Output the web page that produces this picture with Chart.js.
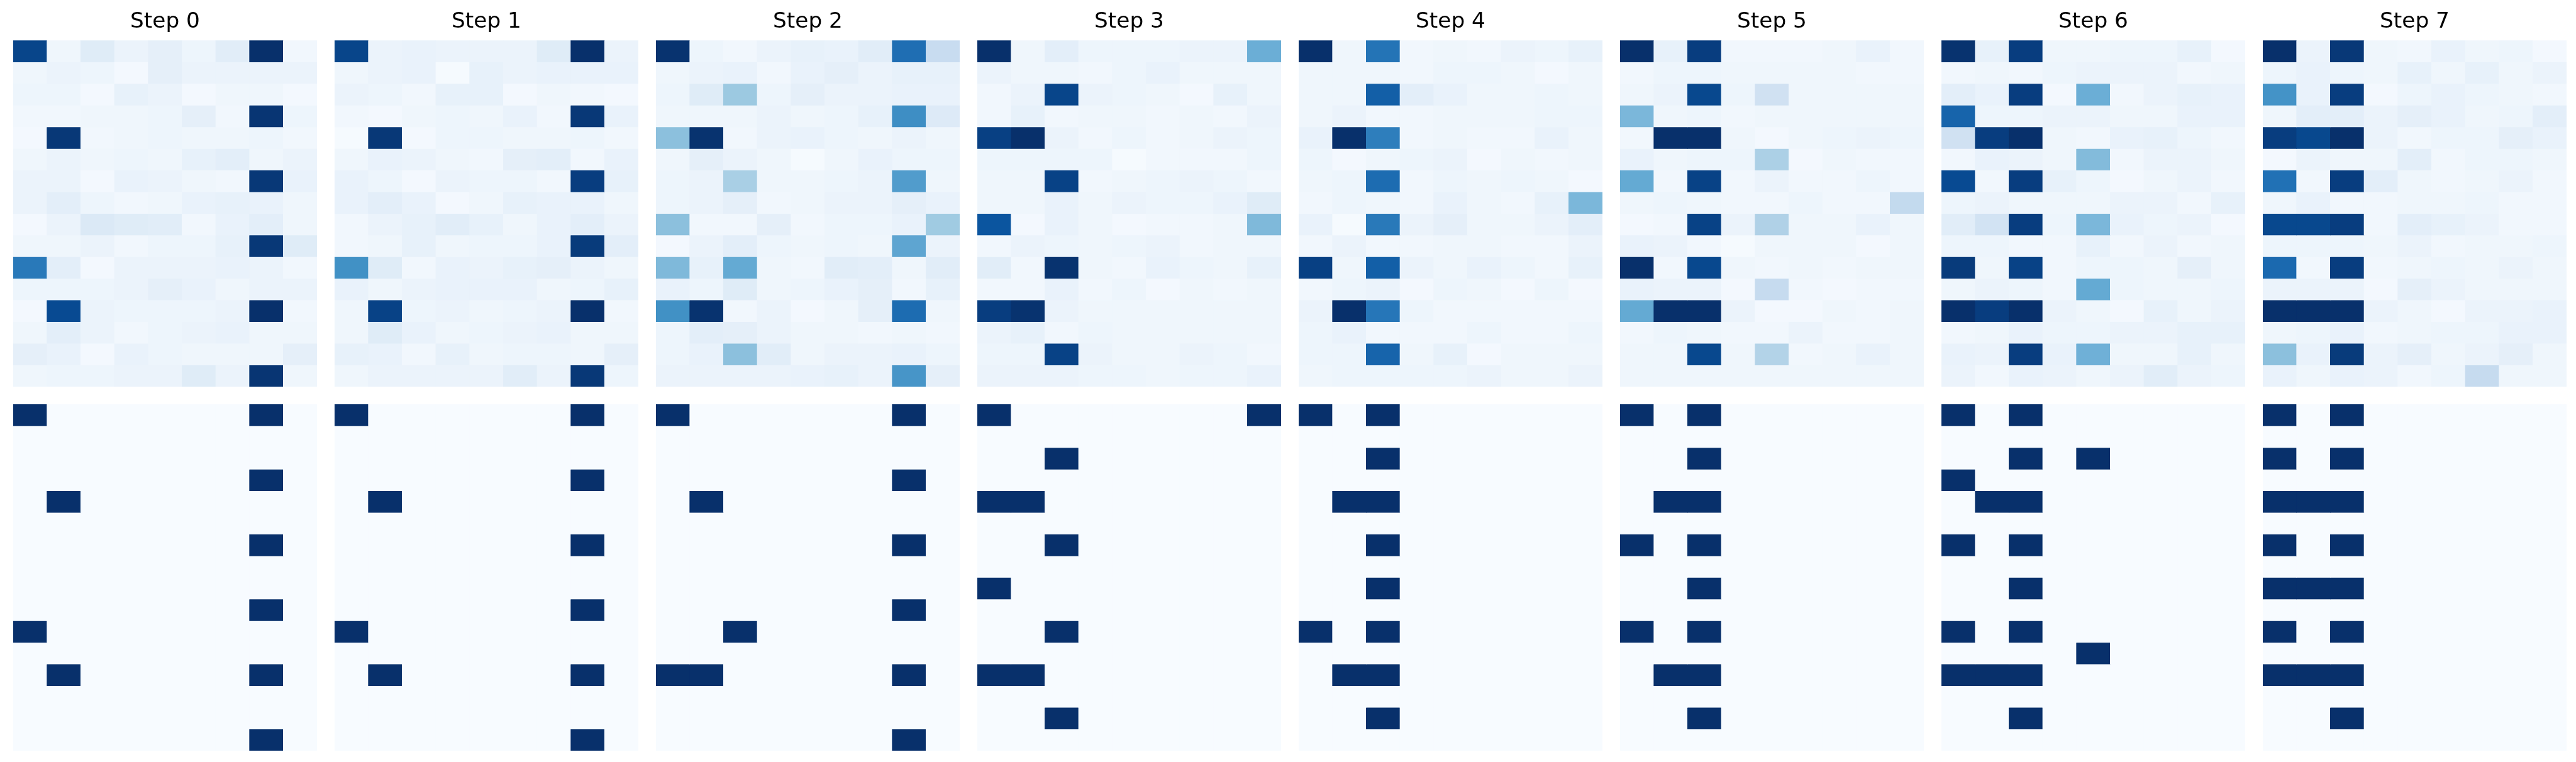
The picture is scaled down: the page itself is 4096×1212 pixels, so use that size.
<!DOCTYPE html>
<html>
<head>
<meta charset="utf-8">
<script src="https://cdn.jsdelivr.net/npm/chart.js@4.4.1/dist/chart.umd.min.js"></script>
<style>
  html, body { margin: 0; padding: 0; background: #fff; }
  body { width: 4096px; height: 1212px; position: relative; overflow: hidden; }
  canvas { position: absolute; }
</style>
</head>
<body>
<script>
// ---- data ----
const stepTitles = ['Step 0', 'Step 1', 'Step 2', 'Step 3', 'Step 4', 'Step 5', 'Step 6', 'Step 7'];
const columnLabels = ['0', '1', '2', '3', '4', '5', '6', '7', '8'];
const rowLabels = ['0', '1', '2', '3', '4', '5', '6', '7', '8', '9', '10', '11', '12', '13', '14', '15'];

// upper row: soft attention-like maps (0..1)
const topStep0 = [
  [0.92,0.04,0.12,0.06,0.09,0.05,0.11,1.00,0.03],
  [0.04,0.06,0.05,0.02,0.09,0.06,0.06,0.06,0.06],
  [0.05,0.05,0.02,0.08,0.06,0.02,0.04,0.04,0.02],
  [0.03,0.03,0.04,0.04,0.05,0.09,0.03,0.98,0.05],
  [0.02,0.97,0.03,0.04,0.05,0.04,0.04,0.05,0.03],
  [0.04,0.06,0.04,0.05,0.04,0.08,0.10,0.04,0.06],
  [0.06,0.06,0.02,0.07,0.06,0.04,0.03,0.97,0.07],
  [0.06,0.10,0.05,0.03,0.04,0.07,0.08,0.07,0.04],
  [0.02,0.06,0.14,0.12,0.11,0.03,0.07,0.10,0.04],
  [0.04,0.04,0.06,0.03,0.05,0.05,0.08,0.97,0.12],
  [0.72,0.10,0.02,0.06,0.06,0.06,0.07,0.06,0.03],
  [0.05,0.05,0.05,0.06,0.09,0.07,0.04,0.06,0.06],
  [0.02,0.90,0.06,0.05,0.05,0.05,0.06,1.00,0.03],
  [0.04,0.10,0.06,0.03,0.05,0.06,0.07,0.04,0.04],
  [0.09,0.07,0.02,0.07,0.05,0.04,0.04,0.04,0.09],
  [0.04,0.05,0.05,0.06,0.06,0.12,0.06,0.98,0.04]
];
const topStep1 = [
  [0.92,0.06,0.07,0.06,0.06,0.06,0.12,1.00,0.06],
  [0.04,0.06,0.07,0.01,0.08,0.06,0.07,0.07,0.07],
  [0.06,0.05,0.03,0.08,0.08,0.02,0.04,0.03,0.02],
  [0.03,0.02,0.04,0.05,0.04,0.07,0.03,0.97,0.07],
  [0.01,0.97,0.02,0.05,0.05,0.04,0.04,0.05,0.03],
  [0.04,0.07,0.06,0.04,0.03,0.09,0.10,0.03,0.07],
  [0.07,0.05,0.02,0.06,0.05,0.05,0.03,0.95,0.08],
  [0.07,0.10,0.07,0.02,0.04,0.08,0.07,0.07,0.04],
  [0.03,0.06,0.08,0.11,0.08,0.04,0.07,0.10,0.06],
  [0.03,0.04,0.08,0.04,0.05,0.05,0.07,0.96,0.10],
  [0.63,0.12,0.03,0.07,0.06,0.08,0.09,0.06,0.04],
  [0.07,0.04,0.06,0.07,0.07,0.07,0.04,0.05,0.08],
  [0.04,0.93,0.05,0.06,0.04,0.05,0.06,1.00,0.03],
  [0.04,0.12,0.07,0.04,0.05,0.06,0.07,0.04,0.04],
  [0.08,0.07,0.03,0.08,0.04,0.05,0.05,0.04,0.09],
  [0.04,0.06,0.06,0.06,0.06,0.11,0.06,0.97,0.05]
];
const topStep2 = [
  [0.99,0.05,0.03,0.06,0.08,0.07,0.11,0.76,0.24],
  [0.04,0.06,0.07,0.03,0.07,0.09,0.06,0.08,0.08],
  [0.05,0.12,0.38,0.05,0.09,0.06,0.06,0.07,0.07],
  [0.04,0.04,0.04,0.06,0.04,0.05,0.08,0.64,0.13],
  [0.42,0.99,0.03,0.06,0.07,0.05,0.04,0.06,0.04],
  [0.04,0.09,0.06,0.04,0.01,0.04,0.07,0.05,0.05],
  [0.05,0.06,0.34,0.04,0.04,0.05,0.06,0.58,0.04],
  [0.05,0.06,0.09,0.03,0.04,0.06,0.06,0.09,0.07],
  [0.42,0.03,0.03,0.09,0.03,0.05,0.05,0.07,0.37],
  [0.02,0.06,0.10,0.05,0.04,0.05,0.04,0.54,0.06],
  [0.45,0.08,0.52,0.04,0.03,0.11,0.10,0.04,0.11],
  [0.07,0.05,0.12,0.04,0.05,0.07,0.09,0.03,0.08],
  [0.63,0.99,0.03,0.06,0.02,0.04,0.09,0.77,0.04],
  [0.05,0.10,0.09,0.06,0.04,0.04,0.03,0.04,0.03],
  [0.05,0.07,0.42,0.11,0.04,0.06,0.06,0.07,0.05],
  [0.06,0.06,0.06,0.06,0.07,0.08,0.06,0.61,0.09]
];
const topStep3 = [
  [1.00,0.04,0.10,0.05,0.05,0.05,0.06,0.06,0.50],
  [0.06,0.04,0.04,0.03,0.05,0.07,0.04,0.04,0.04],
  [0.03,0.06,0.92,0.06,0.05,0.04,0.02,0.08,0.04],
  [0.03,0.08,0.03,0.04,0.04,0.03,0.04,0.03,0.06],
  [0.94,1.00,0.06,0.03,0.05,0.03,0.04,0.06,0.05],
  [0.05,0.05,0.05,0.05,0.01,0.03,0.03,0.03,0.05],
  [0.04,0.04,0.93,0.03,0.04,0.05,0.06,0.05,0.03],
  [0.04,0.04,0.07,0.04,0.06,0.05,0.05,0.07,0.12],
  [0.86,0.02,0.07,0.04,0.02,0.03,0.03,0.04,0.45],
  [0.03,0.06,0.05,0.04,0.05,0.06,0.03,0.04,0.04],
  [0.11,0.03,0.99,0.04,0.03,0.07,0.05,0.04,0.08],
  [0.03,0.03,0.07,0.03,0.05,0.02,0.04,0.03,0.04],
  [0.95,0.99,0.06,0.04,0.04,0.04,0.04,0.04,0.04],
  [0.06,0.08,0.03,0.05,0.04,0.04,0.04,0.04,0.04],
  [0.05,0.05,0.93,0.06,0.04,0.04,0.06,0.05,0.03],
  [0.06,0.06,0.06,0.05,0.05,0.04,0.05,0.05,0.07]
];
const topStep4 = [
  [1.00,0.04,0.74,0.03,0.04,0.03,0.06,0.05,0.08],
  [0.04,0.04,0.04,0.03,0.05,0.05,0.04,0.02,0.04],
  [0.04,0.04,0.82,0.10,0.07,0.04,0.04,0.05,0.04],
  [0.04,0.06,0.03,0.03,0.04,0.04,0.04,0.05,0.05],
  [0.07,1.00,0.70,0.03,0.04,0.03,0.03,0.07,0.04],
  [0.05,0.02,0.04,0.05,0.06,0.02,0.04,0.03,0.04],
  [0.04,0.05,0.77,0.03,0.05,0.04,0.05,0.04,0.02],
  [0.03,0.05,0.04,0.03,0.07,0.04,0.03,0.08,0.46],
  [0.07,0.01,0.72,0.06,0.09,0.04,0.04,0.06,0.10],
  [0.03,0.06,0.03,0.03,0.04,0.04,0.03,0.03,0.06],
  [0.94,0.04,0.82,0.06,0.04,0.07,0.05,0.03,0.08],
  [0.03,0.05,0.06,0.02,0.05,0.04,0.02,0.05,0.02],
  [0.06,1.00,0.73,0.05,0.03,0.03,0.03,0.03,0.03],
  [0.05,0.07,0.03,0.03,0.03,0.05,0.03,0.03,0.05],
  [0.05,0.05,0.80,0.04,0.08,0.02,0.04,0.04,0.04],
  [0.04,0.05,0.05,0.05,0.05,0.06,0.04,0.04,0.06]
];
const topStep5 = [
  [1.00,0.08,0.95,0.03,0.03,0.03,0.04,0.07,0.03],
  [0.03,0.05,0.05,0.04,0.04,0.04,0.04,0.03,0.03],
  [0.04,0.06,0.91,0.05,0.20,0.04,0.04,0.04,0.04],
  [0.46,0.04,0.05,0.03,0.04,0.04,0.04,0.04,0.04],
  [0.03,1.00,1.00,0.04,0.02,0.04,0.05,0.06,0.05],
  [0.07,0.04,0.05,0.05,0.33,0.02,0.04,0.03,0.03],
  [0.52,0.03,0.93,0.03,0.06,0.03,0.03,0.05,0.03],
  [0.04,0.05,0.04,0.03,0.03,0.05,0.03,0.03,0.26],
  [0.02,0.03,0.93,0.06,0.32,0.04,0.04,0.07,0.04],
  [0.07,0.06,0.03,0.01,0.04,0.04,0.04,0.02,0.04],
  [1.00,0.03,0.91,0.04,0.03,0.04,0.03,0.04,0.04],
  [0.07,0.06,0.06,0.02,0.25,0.03,0.02,0.03,0.03],
  [0.52,1.00,1.00,0.06,0.02,0.02,0.04,0.03,0.04],
  [0.03,0.05,0.04,0.03,0.03,0.06,0.03,0.03,0.04],
  [0.04,0.04,0.91,0.04,0.31,0.03,0.04,0.07,0.04],
  [0.04,0.04,0.04,0.04,0.04,0.04,0.04,0.04,0.04]
];
const topStep6 = [
  [0.99,0.08,0.95,0.04,0.04,0.05,0.05,0.08,0.02],
  [0.03,0.04,0.03,0.05,0.06,0.06,0.06,0.03,0.04],
  [0.10,0.07,0.95,0.02,0.50,0.03,0.06,0.08,0.07],
  [0.80,0.05,0.05,0.06,0.06,0.04,0.04,0.07,0.07],
  [0.20,0.95,1.00,0.04,0.03,0.07,0.08,0.05,0.03],
  [0.03,0.07,0.06,0.04,0.44,0.03,0.06,0.06,0.04],
  [0.90,0.03,0.95,0.08,0.05,0.02,0.04,0.06,0.03],
  [0.05,0.06,0.04,0.04,0.04,0.06,0.06,0.03,0.08],
  [0.11,0.19,0.95,0.05,0.46,0.07,0.05,0.06,0.02],
  [0.05,0.05,0.03,0.03,0.08,0.03,0.06,0.03,0.04],
  [0.96,0.04,0.93,0.03,0.05,0.05,0.04,0.09,0.04],
  [0.04,0.06,0.05,0.03,0.52,0.05,0.04,0.04,0.05],
  [1.00,0.95,1.00,0.06,0.04,0.02,0.08,0.04,0.06],
  [0.03,0.04,0.07,0.05,0.05,0.06,0.06,0.08,0.08],
  [0.07,0.06,0.95,0.07,0.49,0.04,0.04,0.08,0.04],
  [0.06,0.03,0.07,0.06,0.04,0.06,0.11,0.06,0.05]
];
const topStep7 = [
  [1.00,0.06,0.97,0.04,0.03,0.07,0.04,0.05,0.02],
  [0.05,0.07,0.05,0.04,0.08,0.04,0.08,0.04,0.06],
  [0.62,0.07,0.95,0.02,0.05,0.07,0.05,0.04,0.03],
  [0.04,0.10,0.10,0.06,0.09,0.07,0.04,0.05,0.10],
  [0.95,0.91,1.00,0.06,0.03,0.05,0.05,0.09,0.07],
  [0.02,0.06,0.04,0.04,0.10,0.03,0.05,0.05,0.04],
  [0.75,0.03,0.95,0.10,0.04,0.03,0.04,0.06,0.03],
  [0.04,0.07,0.03,0.03,0.04,0.04,0.05,0.03,0.03],
  [0.91,0.91,0.95,0.03,0.10,0.08,0.06,0.03,0.03],
  [0.05,0.05,0.05,0.04,0.06,0.03,0.04,0.04,0.05],
  [0.78,0.03,0.95,0.03,0.04,0.05,0.04,0.06,0.04],
  [0.06,0.06,0.06,0.02,0.09,0.06,0.04,0.04,0.04],
  [1.00,1.00,1.00,0.06,0.04,0.02,0.06,0.06,0.07],
  [0.04,0.05,0.07,0.03,0.04,0.05,0.05,0.07,0.07],
  [0.42,0.07,0.96,0.06,0.09,0.04,0.06,0.09,0.04],
  [0.07,0.04,0.07,0.06,0.03,0.05,0.25,0.04,0.04]
];

// lower row: hard 0/1 maps, one string per row, one digit per column
const bottomStep0 = ['100000010','000000000','000000000','000000010','010000000','000000000','000000010','000000000',
                     '000000000','000000010','100000000','000000000','010000010','000000000','000000000','000000010'];
const bottomStep1 = ['100000010','000000000','000000000','000000010','010000000','000000000','000000010','000000000',
                     '000000000','000000010','100000000','000000000','010000010','000000000','000000000','000000010'];
const bottomStep2 = ['100000010','000000000','000000000','000000010','010000000','000000000','000000010','000000000',
                     '000000000','000000010','001000000','000000000','110000010','000000000','000000000','000000010'];
const bottomStep3 = ['100000001','000000000','001000000','000000000','110000000','000000000','001000000','000000000',
                     '100000000','000000000','001000000','000000000','110000000','000000000','001000000','000000000'];
const bottomStep4 = ['101000000','000000000','001000000','000000000','011000000','000000000','001000000','000000000',
                     '001000000','000000000','101000000','000000000','011000000','000000000','001000000','000000000'];
const bottomStep5 = ['101000000','000000000','001000000','000000000','011000000','000000000','101000000','000000000',
                     '001000000','000000000','101000000','000000000','011000000','000000000','001000000','000000000'];
const bottomStep6 = ['101000000','000000000','001010000','100000000','011000000','000000000','101000000','000000000',
                     '001000000','000000000','101000000','000010000','111000000','000000000','001000000','000000000'];
const bottomStep7 = ['101000000','000000000','101000000','000000000','111000000','000000000','101000000','000000000',
                     '111000000','000000000','101000000','000000000','111000000','000000000','001000000','000000000'];

const topMaps = [topStep0, topStep1, topStep2, topStep3, topStep4, topStep5, topStep6, topStep7];
const bottomMaps = [bottomStep0, bottomStep1, bottomStep2, bottomStep3, bottomStep4, bottomStep5, bottomStep6, bottomStep7]
  .map(m => m.map(row => row.split('').map(Number)));

// ---- colour: matplotlib "Blues" ----
const BLUES = [
  [247,251,255],[222,235,247],[198,219,239],[158,202,225],[107,174,214],
  [66,146,198],[33,113,181],[8,81,156],[8,48,107]
];
function blues(v) {
  v = Math.max(0, Math.min(1, v));
  const p = v * (BLUES.length - 1);
  const i = Math.min(Math.floor(p), BLUES.length - 2);
  const t = p - i;
  const a = BLUES[i], b = BLUES[i + 1];
  const c = a.map((x, k) => Math.round(x + (b[k] - x) * t));
  return `rgb(${c[0]},${c[1]},${c[2]})`;
}

// ---- layout (px in the 4096x1212 window) ----
const PANEL_X0 = 20.6;
const PANEL_W = 483;
const PANEL_GAP = 28.06;
const TITLE_H = 64;
const TOP_H = 551;
const BOTTOM_Y = 643;
const BOTTOM_H = 551;

function heatmap(matrix, left, top, width, height, title) {
    const canvas = document.createElement('canvas');
    canvas.width = width;
    canvas.height = height;
    canvas.style.left = left + 'px';
    canvas.style.top = top + 'px';
    document.body.appendChild(canvas);

    const datasets = matrix.map((row, r) => ({
        label: rowLabels[r],
        data: row.map(() => [r, r + 1]),
        backgroundColor: row.map(v => blues(v)),
        borderWidth: 0,
        categoryPercentage: 1.0,
        barPercentage: 1.0,
        grouped: false
    }));

    return new Chart(canvas, {
        type: 'bar',
        data: { labels: columnLabels, datasets: datasets },
        options: {
            responsive: false,
            animation: false,
            devicePixelRatio: 1,
            layout: { padding: 0 },
            scales: {
                x: { display: false },
                y: { display: false, min: 0, max: rowLabels.length, reverse: true }
            },
            plugins: {
                legend: { display: false },
                tooltip: { enabled: false },
                title: {
                    display: !!title,
                    text: title || '',
                    color: '#000',
                    font: { family: 'DejaVu Sans', size: 34.3, weight: 'normal', lineHeight: 1.2 },
                    padding: { top: 15, bottom: 8 }
                }
            }
        }
    });
}

stepTitles.forEach((title, s) => {
    const left = Math.round(PANEL_X0 + s * (PANEL_W + PANEL_GAP));
    heatmap(topMaps[s], left, 0, PANEL_W, TITLE_H + TOP_H, title);
    heatmap(bottomMaps[s], left, BOTTOM_Y, PANEL_W, BOTTOM_H, null);
});
</script>
</body>
</html>
